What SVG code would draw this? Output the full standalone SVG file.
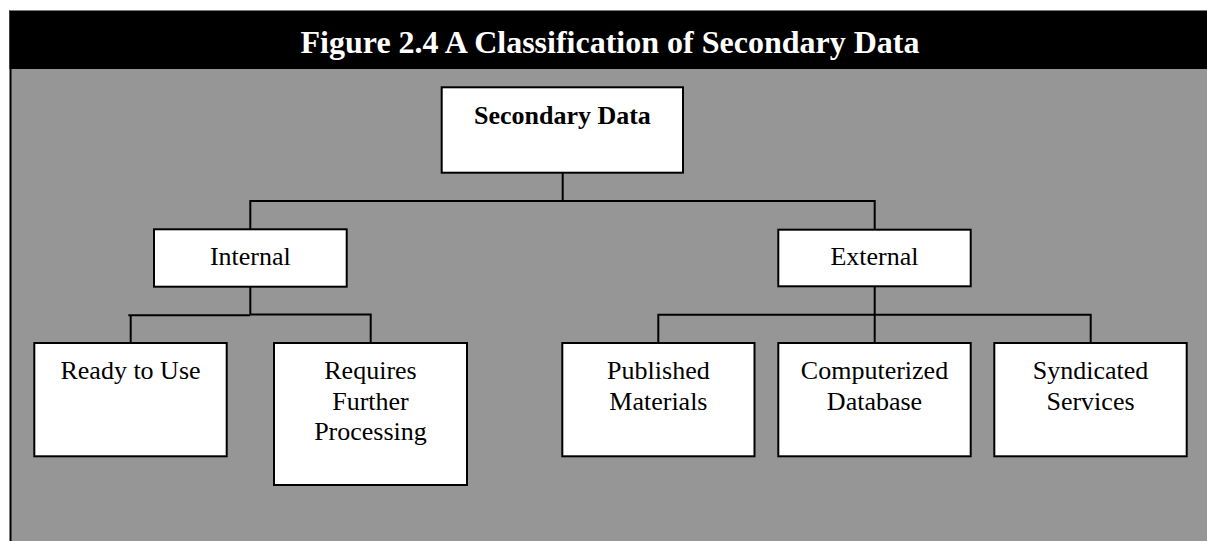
<svg xmlns="http://www.w3.org/2000/svg" width="1207" height="541" viewBox="0 0 1207 541">
  <style>
    .box { fill: #ffffff; stroke: #000000; stroke-width: 2; }
    .lbl { font-family: "Liberation Serif", "Times New Roman", serif; font-size: 26px; fill: #000000; text-anchor: middle; }
    .bold { font-weight: bold; }
    .wire { fill: none; stroke: #000000; stroke-width: 2; }
  </style>

  <!-- page background -->
  <rect x="0" y="0" width="1207" height="541" fill="#ffffff"/>

  <!-- frame: gray panel with black left rule -->
  <rect x="10" y="69" width="1197" height="472" fill="#969696"/>
  <line x1="10.5" y1="10" x2="10.5" y2="541" stroke="#000000" stroke-width="2"/>

  <!-- title band -->
  <g id="title">
    <rect x="9.5" y="10" width="1197.5" height="59" fill="#000000"/>
    <line x1="9.5" y1="10.5" x2="1207" y2="10.5" stroke="#7a7a7a" stroke-width="1"/>
    <text x="610" y="53" font-family="'Liberation Serif', 'Times New Roman', serif" font-size="32" font-weight="bold" fill="#ffffff" text-anchor="middle">Figure 2.4 A Classification of Secondary Data</text>
  </g>

  <!-- connectors -->
  <g id="connectors" class="wire">
    <!-- root to first level -->
    <polyline points="562.7,172.7 562.7,201"/>
    <polyline points="250.3,229.3 250.3,201 874.7,201 874.7,229.3"/>
    <!-- Internal branch -->
    <polyline points="250.3,286.7 250.3,314.5"/>
    <polyline points="128.3,315.3 250.3,315.3"/>
    <polyline points="250.3,314.5 370.7,314.5 370.7,343"/>
    <polyline points="130.7,315.3 130.7,343"/>
    <!-- External branch -->
    <polyline points="874.7,286.3 874.7,343"/>
    <polyline points="658.3,343 658.3,314.7 1090.7,314.7 1090.7,343"/>
  </g>

  <g id="node-secondary-data">
    <rect class="box" x="441.7" y="87.3" width="241.3" height="85.4"/>
    <text class="lbl bold" x="562.4" y="124">Secondary Data</text>
  </g>

  <g id="node-internal">
    <rect class="box" x="154" y="229.3" width="192.7" height="57.4"/>
    <text class="lbl" x="250.3" y="265">Internal</text>
  </g>

  <g id="node-external">
    <rect class="box" x="778.3" y="229.7" width="192.4" height="56.6"/>
    <text class="lbl" x="874.5" y="265">External</text>
  </g>

  <g id="node-ready-to-use">
    <rect class="box" x="34.3" y="343" width="192.4" height="113.3"/>
    <text class="lbl" x="130.5" y="379.3">Ready to Use</text>
  </g>

  <g id="node-requires-further-processing">
    <rect class="box" x="274" y="343" width="193" height="142"/>
    <text class="lbl" x="370.5" y="379.3">Requires</text>
    <text class="lbl" x="370.5" y="409.5">Further</text>
    <text class="lbl" x="370.5" y="439.7">Processing</text>
  </g>

  <g id="node-published-materials">
    <rect class="box" x="562.3" y="343" width="192.2" height="113.3"/>
    <text class="lbl" x="658.4" y="379.3">Published</text>
    <text class="lbl" x="658.4" y="409.5">Materials</text>
  </g>

  <g id="node-computerized-database">
    <rect class="box" x="778.3" y="343" width="192.4" height="113.3"/>
    <text class="lbl" x="874.5" y="379.3">Computerized</text>
    <text class="lbl" x="874.5" y="409.5">Database</text>
  </g>

  <g id="node-syndicated-services">
    <rect class="box" x="994.3" y="343" width="192.4" height="113.3"/>
    <text class="lbl" x="1090.5" y="379.3">Syndicated</text>
    <text class="lbl" x="1090.5" y="409.5">Services</text>
  </g>
</svg>
